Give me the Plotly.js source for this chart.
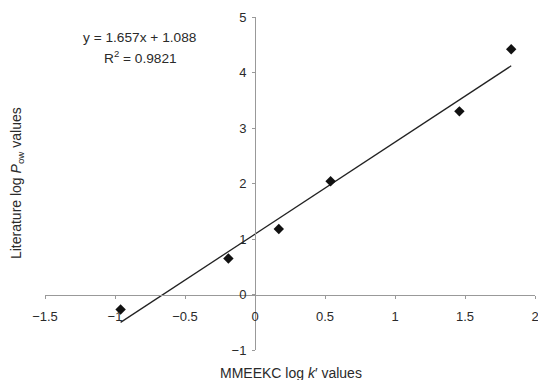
<!DOCTYPE html>
<html>
<head>
<meta charset="utf-8">
<script src="https://cdn.plot.ly/plotly-3.0.1.min.js"></script>
<style>html,body{margin:0;padding:0;background:#fff;}#chart{width:538px;height:380px;}</style>
</head>
<body>
<div id="chart"></div>
<script>
const xVals = [-0.96, -0.19, 0.17, 0.54, 1.46, 1.83];
const yVals = [-0.27, 0.65, 1.18, 2.04, 3.30, 4.42];
const slope = 1.657;
const intercept = 1.088;
const fitX = [-0.96, 1.83];
const fitY = fitX.map(x => slope * x + intercept);
const xRange = [-1.5, 2];
const yRange = [-1, 5];

const font = {family: 'Liberation Sans, Arial, sans-serif', size: 13, color: '#2a2a2a'};
const eqFont = {family: 'Liberation Sans, Arial, sans-serif', size: 13.7, color: '#2a2a2a'};
const titleFont = {family: 'Liberation Sans, Arial, sans-serif', size: 14, color: '#2a2a2a'};

const traces = [
  {x: fitX, y: fitY, mode: 'lines', type: 'scatter', line: {color: '#222', width: 1.3}, hoverinfo: 'skip'},
  {x: xVals, y: yVals, mode: 'markers', type: 'scatter', marker: {symbol: 'diamond', size: 8, color: '#111'}}
];

const layout = {
  width: 538, height: 380,
  margin: {l: 45, r: 3, t: 17, b: 30},
  paper_bgcolor: '#fff', plot_bgcolor: '#fff',
  showlegend: false,
  font: font,
  xaxis: {
    range: xRange, dtick: 0.5, showgrid: false, zeroline: false,
    showline: true, linecolor: '#999', linewidth: 1,
    ticks: 'outside', ticklen: 3, tickcolor: '#999',
    anchor: 'free', position: (0 - yRange[0]) / (yRange[1] - yRange[0]),
    tickfont: font, ticklabeloverflow: 'allow', ticklabelstandoff: 7
  },
  yaxis: {
    range: yRange, dtick: 1, showgrid: false, zeroline: false,
    showline: true, linecolor: '#999', linewidth: 1,
    ticks: 'outside', ticklen: 3, tickcolor: '#999',
    anchor: 'free', position: (0 - xRange[0]) / (xRange[1] - xRange[0]),
    tickfont: font, ticklabeloverflow: 'allow', ticklabelstandoff: 3
  },
  annotations: [
    {xref: 'paper', yref: 'paper', x: 0.502, y: -0.069, yanchor: 'middle', xanchor: 'center', showarrow: false,
     text: 'MMEEKC log <i>k</i>′ values', font: titleFont},
    {xref: 'paper', yref: 'paper', x: -0.057, y: 0.5015, xanchor: 'center', yanchor: 'middle', showarrow: false,
     textangle: -90, text: 'Literature log <i>P</i><sub>ow</sub> values', font: titleFont},
    {xref: 'paper', yref: 'paper', x: 0.194, y: 0.937, xanchor: 'center', yanchor: 'middle', showarrow: false,
     text: 'y = 1.657x + 1.088', font: eqFont},
    {xref: 'paper', yref: 'paper', x: 0.194, y: 0.880, xanchor: 'center', yanchor: 'middle', showarrow: false,
     text: 'R<sup>2</sup> = 0.9821', font: eqFont}
  ]
};

Plotly.newPlot('chart', traces, layout, {displayModeBar: false, staticPlot: true});
</script>
</body>
</html>
